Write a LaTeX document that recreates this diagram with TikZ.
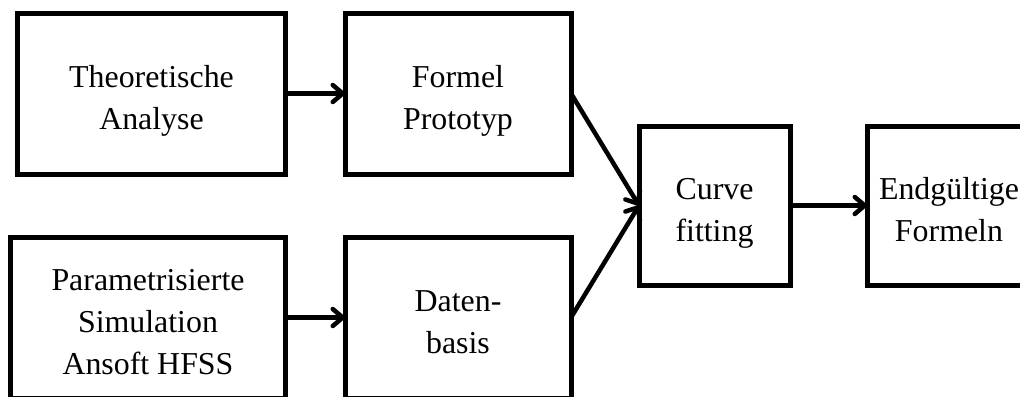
\documentclass[tikz,border=0pt]{standalone}
\usepackage{fontspec}
\setmainfont{Liberation Serif}
\usetikzlibrary{arrows.meta}
\newcommand\boxlines[1]{\raisebox{0pt}[\dimexpr\height+13bp\relax][\depth]{\begin{tabular}{@{}c@{}}#1\end{tabular}}}
\begin{document}
\begin{tikzpicture}[x=1bp,y=-1bp,
  blk/.style={draw=black, line width=5bp, minimum width=#1, inner sep=0pt, outer sep=0pt,
    font=\fontsize{32}{42.5}\selectfont},
  conn/.style={line width=4.5bp, -{Straight Barb[length=10bp,width=17bp,line cap=round,line join=round]}}
]
\useasboundingbox (0,0) rectangle (1020,396);
\clip (0,0) rectangle (1020,396);
\fill[white] (0,0) rectangle (1020,396);
\node[blk=267bp, minimum height=161bp] (ta) at (151.5,93.5) {\boxlines{Theoretische\\Analyse}};
\node[blk=226bp, minimum height=161bp] (fp) at (458,93.5) {\boxlines{Formel\\Prototyp}};
\node[blk=274bp, minimum height=161bp] (ps) at (148,317.5) {\boxlines{Parametrisierte\\Simulation\\Ansoft HFSS}};
\node[blk=226bp, minimum height=161bp] (db) at (458,317.5) {\boxlines{Daten-\\basis}};
\node[blk=151bp, minimum height=159bp] (cf) at (714.5,205.5) {\boxlines{Curve\\fitting}};
\node[blk=164bp, minimum height=159bp] (ef) at (949,205.5) {\boxlines{Endgültige\\Formeln}};
\draw[conn] (ta.east) -- (fp.west);
\draw[conn] (ps.east) -- (db.west);
\draw[conn] (fp.east) -- (cf.west);
\draw[conn] (db.east) -- (cf.west);
\draw[conn] (cf.east) -- (ef.west);
\end{tikzpicture}
\end{document}
